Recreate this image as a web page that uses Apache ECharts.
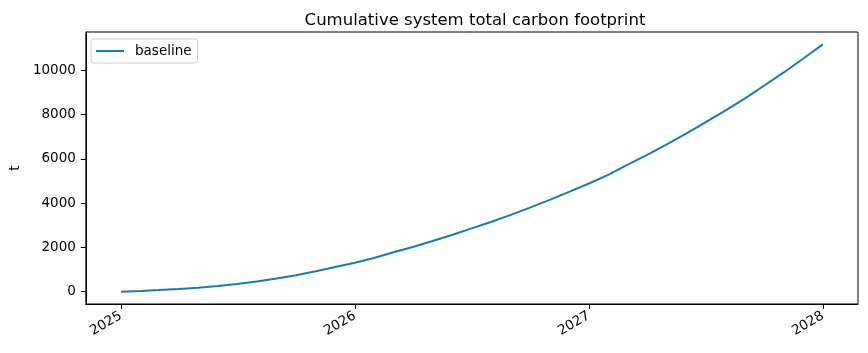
<!DOCTYPE html>
<html>
<head>
<meta charset="utf-8">
<script src="https://cdn.jsdelivr.net/npm/echarts@6/dist/echarts.min.js"></script>
<style>
  html, body { margin: 0; padding: 0; background: #fff; }
  #chart { width: 868px; height: 353px; }
</style>
</head>
<body>
<div id="chart"></div>
<script>
// monthly points
var months = [
  "2025-01", "2025-02", "2025-03", "2025-04", "2025-05", "2025-06",
  "2025-07", "2025-08", "2025-09", "2025-10", "2025-11", "2025-12",
  "2026-01", "2026-02", "2026-03", "2026-04", "2026-05", "2026-06",
  "2026-07", "2026-08", "2026-09", "2026-10", "2026-11", "2026-12",
  "2027-01", "2027-02", "2027-03", "2027-04", "2027-05", "2027-06",
  "2027-07", "2027-08", "2027-09", "2027-10", "2027-11", "2027-12",
  "2028-01"
];
var baseline = [
  0, 30, 70, 120, 180, 255,
  345, 455, 590, 745, 920, 1110,
  1310, 1530, 1770, 2020, 2280, 2560,
  2850, 3150, 3470, 3800, 4150, 4510,
  4890, 5290, 5720, 6170, 6640, 7130,
  7640, 8170, 8730, 9310, 9910, 10530,
  11180
];
var xTicks = ["2025-01", "2026-01", "2027-01", "2028-01"];
var yTicks = [0, 2000, 4000, 6000, 8000, 10000];

var font = "DejaVu Sans";
var fs = 13.5;

function toTime(m) { return Date.parse(m + "-01T00:00:00Z"); }

// matplotlib style 5% margins
var t0 = toTime(months[0]);
var t1 = toTime(months[months.length - 1]);
var xPad = (t1 - t0) * 0.05;
var yMaxData = Math.max.apply(null, baseline);
var yMinData = Math.min.apply(null, baseline);
var yPad = (yMaxData - yMinData) * 0.05;
var xTickVals = xTicks.map(toTime);

var chart = echarts.init(document.getElementById("chart"));
var option = {
  animation: false,
  title: {
    text: "Cumulative system total carbon footprint",
    left: 470,
    textAlign: "center",
    top: 7,
    textStyle: { fontFamily: font, fontSize: 16.5, fontWeight: "normal", color: "#000" }
  },
  legend: {
    left: 91,
    top: 39,
    padding: [5, 6, 5, 5],
    borderColor: "#d0d0d0",
    borderWidth: 1,
    borderRadius: 3,
    itemWidth: 28,
    itemHeight: 2,
    itemGap: 10,
    icon: "rect",
    textStyle: { fontFamily: font, fontSize: fs, color: "#000", padding: [0, 0, 0, 6] },
    data: ["baseline"]
  },
  grid: {
    left: 83,
    right: 10,
    top: 32,
    bottom: 49,
    show: true,
    borderColor: "#000",
    borderWidth: 1,
    containLabel: false
  },
  xAxis: {
    type: "value",
    min: t0 - xPad,
    max: t1 + xPad,
    axisLine: { show: true, onZero: false, lineStyle: { color: "#000", width: 1 } },
    axisTick: {
      show: true,
      length: 5,
      lineStyle: { color: "#000", width: 1 },
      customValues: xTickVals
    },
    axisLabel: {
      rotate: 30,
      margin: 11,
      fontFamily: font,
      fontSize: fs,
      color: "#000",
      customValues: xTickVals,
      formatter: function (v) { return String(new Date(v).getUTCFullYear()); }
    },
    splitLine: { show: false }
  },
  yAxis: {
    type: "value",
    min: yMinData - yPad,
    max: yMaxData + yPad,
    name: "t",
    nameLocation: "middle",
    nameGap: 63,
    nameRotate: 90,
    nameTextStyle: { fontFamily: font, fontSize: fs, color: "#000" },
    axisLine: { show: true, onZero: false, lineStyle: { color: "#000", width: 1 } },
    axisTick: {
      show: true,
      length: 5,
      lineStyle: { color: "#000", width: 1 },
      customValues: yTicks
    },
    axisLabel: {
      margin: 10,
      fontFamily: font,
      fontSize: fs,
      color: "#000",
      customValues: yTicks,
      formatter: function (v) { return String(v); }
    },
    splitLine: { show: false }
  },
  series: [
    {
      name: "baseline",
      type: "line",
      showSymbol: false,
      symbol: "none",
      color: "#1f77b4",
      lineStyle: { color: "#1f77b4", width: 2 },
      data: months.map(function (m, i) { return [toTime(m), baseline[i]]; })
    }
  ]
};
chart.setOption(option);
</script>
</body>
</html>
